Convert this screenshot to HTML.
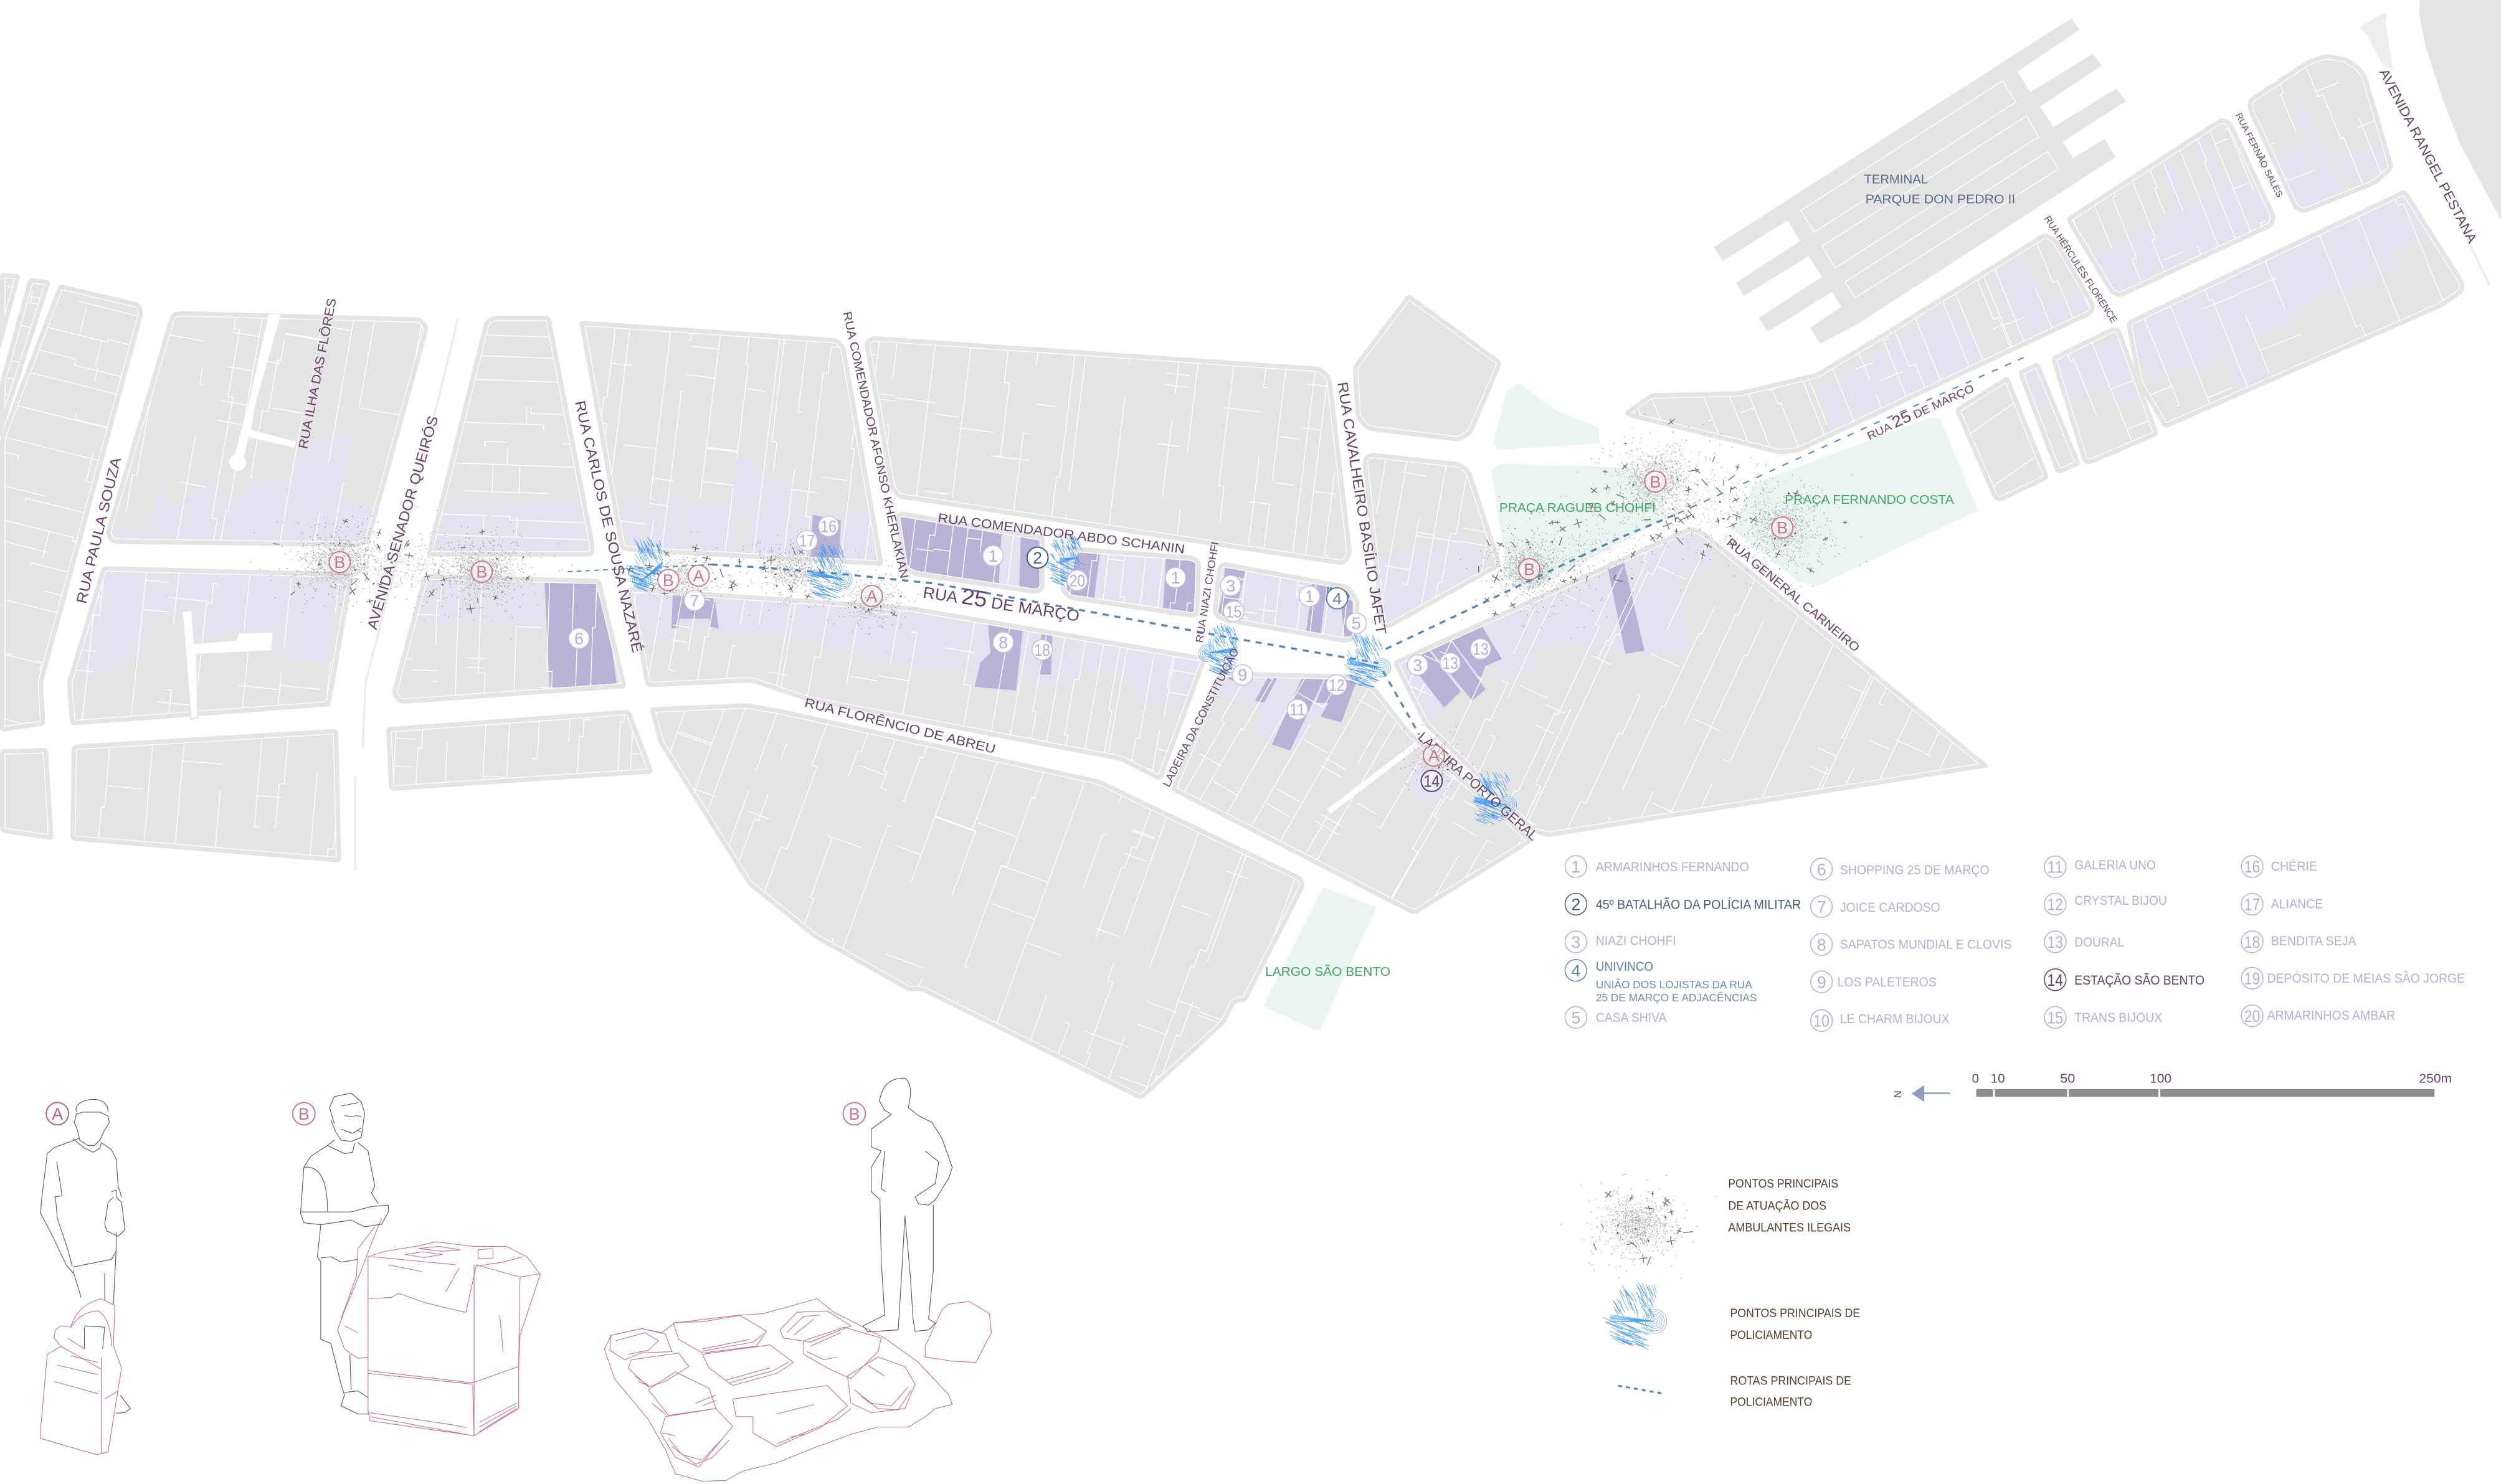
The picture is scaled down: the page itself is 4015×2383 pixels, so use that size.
<!DOCTYPE html>
<html lang="pt"><head><meta charset="utf-8"><title>Rua 25 de Março</title>
<style>
html,body{margin:0;padding:0;background:#fff}
svg{display:block;font-family:"Liberation Sans",sans-serif}
.r{fill:#6a3f6e}
.g{fill:#3fa663}
.n circle{fill:#fff;fill-opacity:.95;stroke:#c5bfe0;stroke-width:.6}
.n text{fill:#b5aed6;font-size:10.5px;text-anchor:middle}
.l circle{fill:none;stroke:#b5aed6;stroke-width:.6}
.l text{fill:#b5aed6;font-size:8.2px}
.l text.d{font-size:10.5px;text-anchor:middle}
.p circle{fill:#fff;fill-opacity:.6;stroke:#c9758a;stroke-width:.75}
.p text{fill:#c9758a;font-size:10.5px;text-anchor:middle}
.k text{fill:#5a3a2a;font-size:7.4px}
.fig *{vector-effect:non-scaling-stroke;fill:none;stroke-width:1.1px;stroke-linejoin:round}
</style></head><body>
<svg id="root" xmlns="http://www.w3.org/2000/svg" width="4015" height="2383" viewBox="0 0 1568 930.6">
<defs id="defs"></defs>
<g id="parks">
<polygon fill="#eaf4f0" points="936,278 945,245 952,240 975,257 1002,268 1003,278 940,282"/>
<polygon fill="#eaf4f0" points="935,295 940,291 1020,293 1042,310 1045,325 960,370 945,360"/>
<polygon fill="#eaf4f0" points="1100,303 1210,262 1216,262 1240,320 1140,367 1128,365 1085,331"/>
<polygon fill="#eaf4f0" points="829.5,556.5 863,568.7 827.6,645.7 824,645.7 792,631"/>
</g>
<g id="blocks"></g>
<g id="whites" fill="#fff" stroke="none"></g>
<g id="scatter"></g>
<g id="dash" fill="none"></g>
<g id="hatch" fill="none"></g>

<!-- street labels -->
<g class="r">
<text transform="translate(53.8,379) rotate(-76.4)" font-size="9" textLength="94" lengthAdjust="spacingAndGlyphs">RUA PAULA SOUZA</text>
<text transform="translate(192.5,281.8) rotate(-79)" font-size="8" textLength="96" lengthAdjust="spacingAndGlyphs">RUA ILHA DAS FLÔRES</text>
<text transform="translate(236,395.3) rotate(-73.8)" font-size="9" textLength="139" lengthAdjust="spacingAndGlyphs">AVENIDA SENADOR QUEIRÓS</text>
<text transform="translate(360.4,252) rotate(77)" font-size="9" textLength="162" lengthAdjust="spacingAndGlyphs">RUA CARLOS DE SOUSA NAZARÉ</text>
<text transform="translate(528.5,196) rotate(77.8)" font-size="7.5" textLength="171" lengthAdjust="spacingAndGlyphs">RUA COMENDADOR AFONSO KHERLAKIAN</text>
<text transform="translate(587.7,327.3) rotate(7.3)" font-size="8" textLength="156" lengthAdjust="spacingAndGlyphs">RUA COMENDADOR ABDO SCHANIN</text>
<text transform="translate(578.3,374.7) rotate(8.7)" font-size="10" textLength="99" lengthAdjust="spacingAndGlyphs">RUA <tspan font-size="14">25</tspan> DE MARÇO</text>
<text transform="translate(754,403.3) rotate(-81)" font-size="6.5" textLength="64" lengthAdjust="spacingAndGlyphs">RUA NIAZI CHOHFI</text>
<text transform="translate(733,494) rotate(-63)" font-size="7" textLength="96.5" lengthAdjust="spacingAndGlyphs">LADEIRA DA CONSTITUIÇÃO</text>
<text transform="translate(838.6,240) rotate(81.2)" font-size="9" textLength="160" lengthAdjust="spacingAndGlyphs">RUA CAVALHEIRO BASÍLIO JAFET</text>
<text transform="translate(504,443) rotate(13.9)" font-size="8" textLength="123" lengthAdjust="spacingAndGlyphs">RUA FLORÊNCIO DE ABREU</text>
<text transform="translate(888.5,463) rotate(41.7)" font-size="8.5" textLength="97" lengthAdjust="spacingAndGlyphs">LADEIRA PORTO GERAL</text>
<text transform="translate(1082,341) rotate(40)" font-size="7.7" textLength="106" lengthAdjust="spacingAndGlyphs">RUA GENERAL CARNEIRO</text>
<text transform="translate(1172,276) rotate(-25)" font-size="7" textLength="73" lengthAdjust="spacingAndGlyphs">RUA <tspan font-size="10">25</tspan> DE MARÇO</text>
<text transform="translate(1281.5,137) rotate(57)" font-size="6" textLength="78.5" lengthAdjust="spacingAndGlyphs">RUA HÉRCULES FLORENCE</text>
<text transform="translate(1401.5,72) rotate(63)" font-size="5.5" textLength="58.5" lengthAdjust="spacingAndGlyphs">RUA FERNÃO SALES</text>
<text transform="translate(1491.5,45) rotate(62.4)" font-size="8.5" textLength="122" lengthAdjust="spacingAndGlyphs">AVENIDA RANGEL PESTANA</text>
</g>
<g fill="#5a6a88" font-size="8">
<text x="1168.7" y="115" textLength="40" lengthAdjust="spacingAndGlyphs">TERMINAL</text>
<text x="1169.5" y="127.5" textLength="94" lengthAdjust="spacingAndGlyphs">PARQUE DON PEDRO II</text>
</g>
<g class="g" font-size="8">
<text x="940" y="321" textLength="98" lengthAdjust="spacingAndGlyphs">PRAÇA RAGUEB CHOHFI</text>
<text x="1119" y="316" textLength="106" lengthAdjust="spacingAndGlyphs">PRAÇA FERNANDO COSTA</text>
<text x="793.2" y="612" textLength="78.5" lengthAdjust="spacingAndGlyphs">LARGO SÃO BENTO</text>
</g>

<!-- map numbers -->
<g class="n">
<g><circle cx="363" cy="400.3" r="6.4"/><text x="363" y="404">6</text></g>
<g><circle cx="435.4" cy="376.6" r="6.4"/><text x="435.4" y="380.3">7</text></g>
<g><circle cx="519.5" cy="330" r="6.4"/><text x="519.5" y="333.7" textLength="10" lengthAdjust="spacingAndGlyphs">16</text></g>
<g><circle cx="506" cy="339" r="6.4"/><text x="506" y="342.7" textLength="10" lengthAdjust="spacingAndGlyphs">17</text></g>
<g><circle cx="622.6" cy="348.5" r="6.4"/><text x="622.6" y="352.2">1</text></g>
<g><circle cx="675.4" cy="364" r="6.4"/><text x="675.4" y="367.7" textLength="10" lengthAdjust="spacingAndGlyphs">20</text></g>
<g><circle cx="737" cy="362.2" r="6.4"/><text x="737" y="365.9">1</text></g>
<g><circle cx="771.6" cy="367.2" r="6.4"/><text x="771.6" y="370.9">3</text></g>
<g><circle cx="773.5" cy="383.4" r="6.4"/><text x="773.5" y="387.1" textLength="10" lengthAdjust="spacingAndGlyphs">15</text></g>
<g><circle cx="821" cy="373.9" r="6.4"/><text x="821" y="377.6">1</text></g>
<g><circle cx="850.3" cy="390.8" r="6.4"/><text x="850.3" y="394.5">5</text></g>
<g><circle cx="629" cy="402.8" r="6.4"/><text x="629" y="406.5">8</text></g>
<g><circle cx="653.4" cy="407.5" r="6.4"/><text x="653.4" y="411.2" textLength="10" lengthAdjust="spacingAndGlyphs">18</text></g>
<g><circle cx="779" cy="423.2" r="6.4"/><text x="779" y="426.9">9</text></g>
<g><circle cx="813.4" cy="444.9" r="6.4"/><text x="813.4" y="448.6" textLength="10" lengthAdjust="spacingAndGlyphs">11</text></g>
<g><circle cx="838" cy="429.5" r="6.4"/><text x="838" y="433.2" textLength="10" lengthAdjust="spacingAndGlyphs">12</text></g>
<g><circle cx="888.8" cy="417" r="6.4"/><text x="888.8" y="420.7">3</text></g>
<g><circle cx="909.2" cy="415.8" r="6.4"/><text x="909.2" y="419.5" textLength="10" lengthAdjust="spacingAndGlyphs">13</text></g>
<g><circle cx="928.3" cy="407" r="6.4"/><text x="928.3" y="410.7" textLength="10" lengthAdjust="spacingAndGlyphs">13</text></g>
</g>
<circle cx="650.5" cy="349.7" r="6.6" fill="#fff" stroke="#4a5a80" stroke-width=".8"/><text x="650.5" y="353.4" font-size="10.5" text-anchor="middle" fill="#4a5a80">2</text>
<circle cx="838.3" cy="375.2" r="6.6" fill="#fff" stroke="#5d85aa" stroke-width=".8"/><text x="838.3" y="378.9" font-size="10.5" text-anchor="middle" fill="#5d85aa">4</text>
<circle cx="897.6" cy="489.7" r="6.6" fill="#fff" fill-opacity=".5" stroke="#5e3c6e" stroke-width=".8"/><text x="897.6" y="493.4" font-size="10.5" text-anchor="middle" fill="#5e3c6e" textLength="10" lengthAdjust="spacingAndGlyphs">14</text>

<!-- A/B pins -->
<g class="p">
<g><circle cx="213" cy="352.5" r="6.6"/><text x="213" y="356.2">B</text></g>
<g><circle cx="302" cy="358.5" r="6.6"/><text x="302" y="362.2">B</text></g>
<g><circle cx="419" cy="363.7" r="6.6"/><text x="419" y="367.4">B</text></g>
<g><circle cx="438" cy="361" r="6.6"/><text x="438" y="364.7">A</text></g>
<g><circle cx="546.6" cy="373.7" r="6.6"/><text x="546.6" y="377.4">A</text></g>
<g><circle cx="958.8" cy="357" r="6.6"/><text x="958.8" y="360.7">B</text></g>
<g><circle cx="1037.8" cy="302" r="6.6"/><text x="1037.8" y="305.7">B</text></g>
<g><circle cx="1117.4" cy="330.8" r="6.6"/><text x="1117.4" y="334.5">B</text></g>
<g><circle cx="899" cy="473.8" r="6.6"/><text x="899" y="477.5">A</text></g>
</g>

<!-- legend -->
<g class="l">
<circle cx="988" cy="543.4" r="6.8"/><text class="d" x="988" y="547.2">1</text><text x="1000.5" y="546.4" textLength="96" lengthAdjust="spacingAndGlyphs">ARMARINHOS FERNANDO</text>
<circle cx="988" cy="567" r="6.8" style="stroke:#4a5a80"/><text class="d" x="988" y="570.8" style="fill:#4a5a80">2</text><text x="1000.5" y="570" textLength="128.6" lengthAdjust="spacingAndGlyphs" style="fill:#4a5a78">45º BATALHÃO DA POLÍCIA MILITAR</text>
<circle cx="988" cy="590.6" r="6.8"/><text class="d" x="988" y="594.4">3</text><text x="1000.5" y="592.6" textLength="50.3" lengthAdjust="spacingAndGlyphs">NIAZI CHOHFI</text>
<circle cx="988" cy="608.5" r="6.8" style="stroke:#5d85aa"/><text class="d" x="988" y="612.3" style="fill:#5d85aa">4</text><text x="1000.5" y="608.8" textLength="36" lengthAdjust="spacingAndGlyphs" style="fill:#5d85aa">UNIVINCO</text>
<text x="1000.5" y="619.8" textLength="98" lengthAdjust="spacingAndGlyphs" style="fill:#6d8db0;font-size:7px">UNIÃO DOS LOJISTAS DA RUA</text>
<text x="1000.5" y="628" textLength="101" lengthAdjust="spacingAndGlyphs" style="fill:#6d8db0;font-size:7px">25 DE MARÇO E ADJACÊNCIAS</text>
<circle cx="988" cy="638" r="6.8"/><text class="d" x="988" y="641.8">5</text><text x="1000.5" y="640.8" textLength="44.4" lengthAdjust="spacingAndGlyphs">CASA SHIVA</text>

<circle cx="1142" cy="545" r="6.8"/><text class="d" x="1142" y="548.8">6</text><text x="1153.6" y="548.2" textLength="93.6" lengthAdjust="spacingAndGlyphs">SHOPPING 25 DE MARÇO</text>
<circle cx="1142" cy="568.5" r="6.8"/><text class="d" x="1142" y="572.3">7</text><text x="1153.6" y="571.8" textLength="62.8" lengthAdjust="spacingAndGlyphs">JOICE CARDOSO</text>
<circle cx="1142" cy="592.3" r="6.8"/><text class="d" x="1142" y="596.1">8</text><text x="1153.6" y="595" textLength="107.6" lengthAdjust="spacingAndGlyphs">SAPATOS MUNDIAL E CLOVIS</text>
<circle cx="1142" cy="615.7" r="6.8"/><text class="d" x="1142" y="619.5">9</text><text x="1152" y="618.5" textLength="62" lengthAdjust="spacingAndGlyphs">LOS PALETEROS</text>
<circle cx="1142" cy="640" r="6.8"/><text class="d" x="1142" y="643.8" textLength="10" lengthAdjust="spacingAndGlyphs">10</text><text x="1153.6" y="641.6" textLength="68.6" lengthAdjust="spacingAndGlyphs">LE CHARM BIJOUX</text>

<circle cx="1288.5" cy="543.6" r="6.8"/><text class="d" x="1288.5" y="547.4" textLength="10" lengthAdjust="spacingAndGlyphs">11</text><text x="1300.6" y="545.2" textLength="51" lengthAdjust="spacingAndGlyphs">GALERIA UNO</text>
<circle cx="1288.5" cy="567" r="6.8"/><text class="d" x="1288.5" y="570.8" textLength="10" lengthAdjust="spacingAndGlyphs">12</text><text x="1300.6" y="567.5" textLength="58" lengthAdjust="spacingAndGlyphs">CRYSTAL BIJOU</text>
<circle cx="1288.5" cy="590.6" r="6.8"/><text class="d" x="1288.5" y="594.4" textLength="10" lengthAdjust="spacingAndGlyphs">13</text><text x="1300.6" y="593.6" textLength="31.2" lengthAdjust="spacingAndGlyphs">DOURAL</text>
<circle cx="1288.5" cy="614.4" r="6.8" style="stroke:#5e3c6e"/><text class="d" x="1288.5" y="618.2" textLength="10" lengthAdjust="spacingAndGlyphs" style="fill:#5e3c6e">14</text><text x="1300.6" y="617.5" textLength="81.5" lengthAdjust="spacingAndGlyphs" style="fill:#5e3c6e">ESTAÇÃO SÃO BENTO</text>
<circle cx="1288.5" cy="638" r="6.8"/><text class="d" x="1288.5" y="641.8" textLength="10" lengthAdjust="spacingAndGlyphs">15</text><text x="1300.6" y="640.8" textLength="55" lengthAdjust="spacingAndGlyphs">TRANS BIJOUX</text>

<circle cx="1412" cy="543.4" r="6.8"/><text class="d" x="1412" y="547.2" textLength="10" lengthAdjust="spacingAndGlyphs">16</text><text x="1423.8" y="546" textLength="29" lengthAdjust="spacingAndGlyphs">CHÉRIE</text>
<circle cx="1412" cy="567" r="6.8"/><text class="d" x="1412" y="570.8" textLength="10" lengthAdjust="spacingAndGlyphs">17</text><text x="1423.8" y="569.5" textLength="32.7" lengthAdjust="spacingAndGlyphs">ALIANCE</text>
<circle cx="1412" cy="590.6" r="6.8"/><text class="d" x="1412" y="594.4" textLength="10" lengthAdjust="spacingAndGlyphs">18</text><text x="1423.8" y="592.9" textLength="53.4" lengthAdjust="spacingAndGlyphs">BENDITA SEJA</text>
<circle cx="1412" cy="613.4" r="6.8"/><text class="d" x="1412" y="617.2" textLength="10" lengthAdjust="spacingAndGlyphs">19</text><text x="1421.4" y="616.2" textLength="124" lengthAdjust="spacingAndGlyphs">DEPÓSITO DE MEIAS SÃO JORGE</text>
<circle cx="1412" cy="637" r="6.8"/><text class="d" x="1412" y="640.8" textLength="10" lengthAdjust="spacingAndGlyphs">20</text><text x="1421.4" y="639.5" textLength="80.3" lengthAdjust="spacingAndGlyphs">ARMARINHOS AMBAR</text>
</g>

<!-- scale -->
<g fill="#6a3f6e" font-size="8">
<text x="1236.3" y="679">0</text><text x="1248" y="679" textLength="9" lengthAdjust="spacingAndGlyphs">10</text><text x="1291.6" y="679" textLength="9.4" lengthAdjust="spacingAndGlyphs">50</text><text x="1347.8" y="679" textLength="13.6" lengthAdjust="spacingAndGlyphs">100</text><text x="1516.6" y="679" textLength="20.6" lengthAdjust="spacingAndGlyphs">250m</text>
<text transform="translate(1192,686.2) rotate(-90)" font-size="6.5" text-anchor="middle">N</text>
</g>
<g fill="#8e8e8e">
<rect x="1239" y="683" width="10.5" height="4.8"/><rect x="1250.7" y="683" width="45.3" height="4.8"/><rect x="1297" y="683" width="56.2" height="4.8"/><rect x="1354.4" y="683" width="171.9" height="4.8"/>
</g>
<polygon points="1198.5,685.8 1206.4,680.5 1206.4,691" fill="#8aa0bc"/><line x1="1206" y1="685.6" x2="1222.6" y2="685.6" stroke="#8aa0bc" stroke-width="1"/>

<!-- key -->
<g class="k">
<text x="1083.5" y="744.7" textLength="69" lengthAdjust="spacingAndGlyphs">PONTOS PRINCIPAIS</text>
<text x="1083.5" y="758.6" textLength="61.6" lengthAdjust="spacingAndGlyphs">DE ATUAÇÃO DOS</text>
<text x="1083.5" y="772.2" textLength="76.8" lengthAdjust="spacingAndGlyphs">AMBULANTES ILEGAIS</text>
<text x="1084.7" y="826" textLength="81.5" lengthAdjust="spacingAndGlyphs">PONTOS PRINCIPAIS DE</text>
<text x="1084.7" y="839.6" textLength="51.5" lengthAdjust="spacingAndGlyphs">POLICIAMENTO</text>
<text x="1084.7" y="868.3" textLength="76" lengthAdjust="spacingAndGlyphs">ROTAS PRINCIPAIS DE</text>
<text x="1084.7" y="881.7" textLength="51.5" lengthAdjust="spacingAndGlyphs">POLICIAMENTO</text>
</g>

<!-- figures -->
<g class="fig" transform="matrix(.4234 0 0 .1701 0 663.9)">
<g stroke="#5b5058">
<path d="M113,195C110,165 125,150 140,150C155,152 160,175 160,195"/>
<path d="M113,205L122,197L148,197L160,212L162,235L155,262L148,300L140,320L130,320L118,300L115,265L110,235Z"/>
<path d="M118,293L80,328L70,350L62,510L60,570L75,640L98,760L108,790"/>
<path d="M80,510L92,505L84,380M82,510L85,590L100,700L107,765"/>
<path d="M108,768L165,740L172,710L172,640M150,310L165,335L172,370L175,470L180,510"/>
<path d="M108,295L125,330L138,345L148,330L150,310"/>
<path d="M108,780L120,880M172,700L168,905M155,790L155,890"/>
<path d="M165,490L172,485L172,510L180,530L185,630L175,655L158,635L155,610L160,530L168,510"/>
<path d="M125,985L155,990L152,1070M125,990L125,1070M178,1240L193,1290L185,1305L172,1307"/>

<path d="M495,240L488,180L495,140L520,127L535,160L540,200L535,290L520,305L505,300L497,270L490,225"/>
<path d="M505,175L530,162M510,210L525,215M525,210L535,212M505,260L522,275L535,255M530,265L535,270"/>
<path d="M495,300L485,320L460,360L450,400L445,570L450,605L475,612L470,730L475,750L475,1035L490,1050L505,1200L510,1240L505,1280L530,1310L548,1310"/>
<path d="M530,310L545,340L555,470L550,495L560,535M450,400C470,395 485,430 485,565"/>
<path d="M445,565L520,565L550,545L575,540L575,565L565,610L540,620L520,595L475,612"/>
<path d="M485,320L510,350L522,345L525,312M475,735L490,730L505,750L530,740M510,1230L530,1225L545,1250M518,1090L520,1220"/>

<path d="M1305,130C1310,85 1325,70 1340,72C1350,90 1350,130 1345,180L1360,210L1380,235L1395,295L1410,400L1405,440L1385,520L1375,540L1360,535L1355,510L1385,460M1382,540L1382,780L1375,960L1385,975L1375,1000L1355,1005L1352,960L1348,800L1340,580L1335,800L1330,1000L1285,1007L1278,985L1310,945L1305,750L1303,520L1290,490L1290,400L1305,340L1290,325L1290,260L1320,205L1310,190L1302,155L1305,130"/>
<path d="M1310,340L1305,480L1312,490M1370,340L1390,380L1385,460"/>
</g>
<g stroke="#cc6d88">
<path d="M150,885C125,900 110,940 105,990L90,985L82,1000L80,1030L90,1060L70,1090L60,1370L60,1400L143,1460L160,1450L180,1140L168,1060L170,910L150,885Z"/>
<path d="M105,990C115,950 130,930 145,930C158,945 165,1000 165,1060M90,1060L150,1145M85,1130L145,1165M80,1190L145,1235M155,1255L175,1225M150,1100L150,1455M100,1030L125,1070M105,1095L145,1120"/>

<path d="M545,730L570,710L620,690L645,675L700,692L750,692L780,730L800,795L790,870L770,1020L768,1135L768,1290L702,1390L548,1335L545,1300L545,730Z"/>
<path d="M550,730L675,760M705,760L770,805L800,793M545,885L580,880L590,865L630,900L680,930L690,935L705,765L745,750L775,730M702,760L702,1390M770,805L768,1135M545,1150L700,1195L768,1135M545,1160L700,1200M700,1205L702,1390M548,1305L670,1350L690,1360M548,1320L690,1385M710,1375L765,1290M710,1340L765,1270M710,1358L765,1280M575,760L625,785M660,860L680,770M740,945L745,1080"/>
<path d="M565,590L550,680L535,780L510,930L500,1000L510,1070L530,1105L545,1100M555,620L530,700L528,800L505,960M510,985L530,1010"/>
<path d="M620,700L655,710L682,705L650,692ZM600,722L628,733L655,722L625,712ZM708,705L730,700L730,735L708,737Z"/>

<path d="M1405,905L1435,895L1465,940L1468,1010L1445,1120L1410,1115L1370,1100L1370,1060L1385,980L1395,925Z"/>
<path d="M895,1070L910,1180L960,1330L985,1440L1000,1530L1040,1558L1075,1555L1100,1520L1150,1490L1200,1440L1260,1385L1300,1358L1345,1358L1370,1320L1385,1290L1410,1275L1405,1240L1360,1120L1310,1030L1255,960L1235,935L1210,885L1130,940L1100,945L1040,970L1000,972L980,1010L950,995L905,1020Z"/>
<path d="M905,1020L950,995L985,1015L995,1080L950,1085L925,1110L903,1075ZM912,1040L955,1010L975,1040L960,1075L930,1090"/>
<path d="M997,975L1095,945L1135,1005L1120,1060L1040,1085L1005,1035ZM1040,1078L1115,1045L1130,1015M1040,1070L1110,1035"/>
<path d="M1040,1090L1140,1055L1175,1120L1150,1160L1085,1205L1050,1140ZM1080,1195L1145,1150L1168,1118M1075,1185L1140,1140"/>
<path d="M1155,1000L1180,935L1225,930L1260,985L1200,1045L1160,1030ZM1165,1010L1190,950L1215,945M1175,1020L1205,960"/>
<path d="M1190,1040L1250,990L1305,1030L1300,1080L1260,1180L1225,1140L1190,1090ZM1200,1060L1245,1010M1195,1080L1220,1110L1240,1100"/>
<path d="M1255,1170L1300,1100L1340,1135L1355,1200L1340,1290L1290,1305L1260,1270ZM1265,1220L1290,1270L1320,1280L1345,1210M1275,1245L1300,1290L1330,1295L1350,1220M1285,1130L1310,1170"/>
<path d="M935,1110L1005,1085L1020,1135L985,1190L960,1210L930,1140ZM940,1170L960,1205L945,1190"/>
<path d="M960,1220L1000,1155L1050,1215L1060,1290L990,1315ZM1030,1270L1060,1240M1040,1280L1060,1260M965,1270L985,1310"/>
<path d="M985,1320L1060,1290L1085,1355L1060,1430L1035,1505L1000,1470L978,1380ZM990,1400L1010,1460L1040,1480L1070,1400M995,1430L1030,1495L1055,1470L1080,1405M980,1380L1000,1390"/>
<path d="M1085,1255L1225,1205L1255,1280L1215,1360L1150,1430L1115,1380L1115,1320L1090,1320ZM1150,1310L1205,1275M1150,1420L1240,1330L1260,1290M1170,1395L1190,1385"/>
</g>
</g>
<g class="p">
<g><circle cx="36" cy="698.4" r="7" style="fill:none;stroke:#c25c7a"/><text x="36" y="702.2" style="fill:#c25c7a">A</text></g>
<g><circle cx="190.5" cy="698.4" r="7" style="fill:none"/><text x="190.5" y="702.2">B</text></g>
<g><circle cx="535.6" cy="698.4" r="7" style="fill:none"/><text x="535.6" y="702.2">B</text></g>
</g>
</svg>
<script>
(function(){
var NS="http://www.w3.org/2000/svg",GRAY="#e4e4e4",LIL="#e3e2f1",DK="#b9b1d6",seed=12345;
function R(){seed|=0;seed=seed+0x6D2B79F5|0;var t=Math.imul(seed^seed>>>15,1|seed);t=t+Math.imul(t^t>>>7,61|t)^t;return((t^t>>>14)>>>0)/4294967296}
function G(){return (R()+R()+R()+R()-2)/.58}
function el(n,a,p){var e=document.createElementNS(NS,n);for(var k in a)e.setAttribute(k,a[k]);if(p)p.appendChild(e);return e}
function f(x){return x.toFixed(1)}
function rp(P,r){
 var d="",n=P.length;
 for(var i=0;i<n;i++){
  var p0=P[(i+n-1)%n],p1=P[i],p2=P[(i+1)%n],a=Math.hypot(p0[0]-p1[0],p0[1]-p1[1]),b=Math.hypot(p2[0]-p1[0],p2[1]-p1[1]),d1=Math.min(r,a/2),d2=Math.min(r,b/2);
  var ax=p1[0]+(p0[0]-p1[0])*d1/a,ay=p1[1]+(p0[1]-p1[1])*d1/a,bx=p1[0]+(p2[0]-p1[0])*d2/b,by=p1[1]+(p2[1]-p1[1])*d2/b;
  d+=(i?"L":"M")+f(ax)+" "+f(ay)+"Q"+f(p1[0])+" "+f(p1[1])+" "+f(bx)+" "+f(by);
 }
 return d+"Z";
}
var B=[
["0,171 13,172 0,220",10,8,14],
["18,174 32,176 0,275 0,240",10,8,14],
["37,178 88,190 90,196 27,428 28.5,455 0,459 0,275",14,9,18],
["0,470 30,469 33.6,527 0,522",0,0,0],
["107,197 112,195 264,199 269,205 232,339 227,343 70,341 66,335",100,12,28,["70.6,329 91.5,334.5 96,322.6 99.7,306 104,307 102.7,316.6 117,318 119,308.4 124.4,308.4 125.9,302.4 135.6,303 136.3,307.6 140,308.8 140.8,312 145.3,312.9 151,312 158,301.6 184,302.4 185,286.7 197.6,275.5 208,277.7 209.6,272.5 220.8,274.7 212.6,312.9 233.5,318 229.8,342 66,342"]],
["64,355 222,359 207,443 44,455 42,428",96,12,28,["64,355 224,359 208,387 206.6,413.8 189,414.5 170,410 171.5,396.6 148,396.6 121,402.7 116,382.8 96,386.6 89,410 60.5,423.8 45.4,425 55.5,380"]],
["45,467 212,457 214,541 44,527",95,13,26],
["304,201 309,198 345,198 373,343 371.5,349 267,349",2,9,18,["281,317 366.5,314 375,350 270,350"]],
["265.6,360 376.5,363 393,431.5 250.5,441.5 245.5,435",92,12,20,["262,360 341,362 341,395 292.5,390 264,392"],["341.3,362 378,362 386.6,429 344.6,432.5"]],
["242,456 395,445 410,485 244,496",93,12,26],
["363,201 525,212 530,217 554,355 395,346 389,345",97,10,22,["390.5,315 399.6,314.4 404,350 395,350","404.8,320.3 410,320.3 410,311.8 427,310 430.2,350 406,350","429.6,316.4 458.2,315.7 460.8,322.3 460.2,350 433,350","459.5,313.8 462.8,287 473.2,286.4 471.2,322.9 460.8,322.9","471.2,292.3 475.1,295.6 502.5,308 501.8,322.2 509.6,323.5 546,320.3 552,358 470.6,350"],["509.6,322.9 527.2,326.2 525.9,354.1 508.3,350.2"]],
["393,368 570,380 757,412 728,490 702,477 507,440 471,428 405,431",100,9,20,["393,366 560,378 611,388 640,389 671,393 680,396 754,408 745,444 716,441 703,420 680,420 671,430 650,431 640,417 611,422 598,419.5 569,418 556,414.5 507.7,402.7 487.5,397.7 450,399 450,393 423.6,393 423.6,400 404,403"],["422,366 447,366 450.5,394 445,393 445,388 426,388 425,394 421,394","619,386 642,388 637,433 611,430.7 614.6,415.7 621,409.5","653,392 660,392 659,423 652,423"]],
["407,443.5 469,441 491,445 689.4,488.9 816.4,549.9 818.3,555 781,629 775,628 768,642 715.5,690 577.3,621.3 570,622 510,588 469,555 413,466",110,13,30],
["765,421 847.7,423 862,430.7 885,459.4 961,526.6 959,529 886.6,574 734,495.5",120,10,22,["763.5,434.4 773,412 851,425.7 841,453 828,449.4 809,470.6 786,460.6 792.6,447","878.7,485.6 891.7,477.8 915.8,490.8 894.3,507.7"],["775,412 792.7,414.5 779.7,429.5 770,425.7","800.7,414.5 805.6,415.7 792.6,440.7 786.8,439.4","820,417 833,419.5 808.8,470.6 797.5,466.8","833,420.7 851,425.7 841,453 828,449.4 833,440.7 825,440.7"]],
["873,415 1060,330 1068,333 1248,481 970,525 961,522 893,455",115,11,24,["869,420 1051,336 1060,332 1075,348 1076,356 1054,360 1058,410 1020,410 985,404 961,408 964,420 941,426 935,415 905,444 895,453.7 873.5,423"],["880,410.7 893.7,405.1 915.8,433.5 905.4,443.7","894.3,404.2 907.4,399 931.4,432.2 923,439.4","908,398.3 927.5,389.9 941.6,413.3 931.2,417.6 928.2,425.7","1008,356 1018,352 1031,408 1019,410"]],
["541.7,214 546.6,210.7 828,230 834.7,236.4 847.7,347.3 843,354.7 562.7,312.4 558,306",97,10,26],
["561,323.6 564,320.6 655,336 655,369.7 650,372.7 572.4,361 566,357",97,8,12,["628,335 640,337 640,372 625,370"],["560,320 628,332 626,370 570,362","640,335 657,338 655,372 639,370"]],
["664.7,342.3 749,348.5 753,352.2 752,385 749,387.6 669.6,375.9 664.7,369.7",97,9,15,["665,342 755,348 755,390 665,378"],["678,341 690,343 686,375 668,373 670,362","731,350 750,352 748,388 729,385"]],
["763.5,354.7 766.7,352.2 846,367 852.5,377 851,400.8 844.5,403.3 765,389.6 760,384.6",97,8,13,["767,352 854,370 854,405 765,391"],["768,354 781,357 773,391 763,387 767,370","823,363 832,365 828,398 819,396","840,374 848,377 848,399 843,399"],["#5d85aa","832,366 847,368 846,375 832,374"]],
["854,287.5 859,283.7 915.7,290 922,295 941.6,354.7 870,394.6 865.5,392",100,10,20,["863,351 899.5,342 915.7,333.6 940,364.7 870.4,396 866,392"]],
["848,230 883,184 942,227 923,272 915,277 857,270 850,262",0,0,0],
["1017.8,259 1034.8,246.6 1089.5,245.4 1138.5,234 1187.6,204.3 1282,145.7 1289.5,149.5 1314,192 1312,197 1127,284 1115.9,285 1021.6,261.6",68,8,16,["1140.4,246.6 1221.5,189.3 1248,228 1148,269.5","1250,174.4 1268.7,160.7 1289.5,205.5 1266.8,216.7","1285.7,191.8 1304.6,183 1310,193 1289.5,203"]],
["1295,137 1393,73.5 1398.9,76 1427,135.8 1425,142 1329,186.8 1323,184.3",68,8,15,["1312.9,162.4 1365,132 1355.5,102 1361,101 1370.6,129.5 1391,118 1376,90 1385.6,88.4 1395,118 1408.3,109.6 1427,138 1329,188"]],
["1409.2,62.5 1446.3,37.8 1458,33.6 1471,35.8 1480.1,41.7 1484,48.2 1500.9,105.5 1489.2,115.9 1443.7,134.1 1438.5,131.5 1409.2,69",68,10,20,["1437.1,62.5 1441.7,60.5 1469,119 1456.7,125","1426.7,97 1442.4,91.1 1456.7,125 1445,130.8 1441,128.9","1467.1,100.2 1493.1,89.2 1499.4,101.6 1491.2,108.7 1474.3,116.5"]],
["1332.9,201.8 1508,118.5 1545,177 1545,183 1530.9,192.7 1357,269 1340,240",68,16,32,["1334,203 1508.8,121 1521.8,147.8 1499,158.2 1502.9,168.6 1467,185.6 1455.5,181.8 1438.5,201.8 1410,214 1421.5,235.4 1402.6,245.4 1393,219.2 1376,239 1372.4,229 1348,239 1335,204"]],
["1285.7,224 1325,204.8 1329,205.5 1353.6,272.8 1310,291.4 1306,290",68,13,22,["1289.5,225.4 1306.4,214 1314,218 1331,210.5 1342.3,250.3 1329,252.8 1321.5,240.4 1295,252.8"]],
["1265,232.9 1278,226.7 1304.6,291.4 1289.5,297.7",0,0,0,["1268.7,235.4 1278,230.4 1287.6,250.3 1276,255.3"]],
["1225.3,256.6 1259,235.4 1285,300 1253.6,315 1250,313",-35,26,40],
["1298.9,11.2 1303.8,18.7 1265,44.8 1273,57.8 1312,33.6 1317.8,41 1279,66.8 1287.6,79.7 1327,55.3 1332.9,63.5 1293.2,88.9 1299.6,99 1319.6,87.2 1326.5,98.4 1165,203 1141,215.5 1134.8,205.5 1154.4,192.3 1148.7,183 1108.4,208 1102.7,199.3 1142.3,173.6 1134,160.7 1093.3,185.6 1088.4,177.4 1128.4,151.2 1120.8,138.2 1080,163.7 1074.4,155",0,0,0,null,null,null,true],
["1517,0 1568,0 1568,138 1542.6,91 1531,61 1520.5,28.6 1516.6,7.8",0,0,0,null,null,null,true]
];
var defs=document.getElementById("defs"),bl=document.getElementById("blocks");
B.forEach(function(b,i){
 var P=b[0].split(" ").map(function(s){return s.split(",").map(Number)});
 var xs=P.map(function(p){return p[0]}),ys=P.map(function(p){return p[1]});
 var x0=Math.min.apply(0,xs),x1=Math.max.apply(0,xs),y0=Math.min.apply(0,ys),y1=Math.max.apply(0,ys);
 var pd=rp(P,b[7]?0.01:3.2);
 var c=el("clipPath",{id:"c"+i},defs);el("path",{d:pd},c);
 var g=el("g",{"clip-path":"url(#c"+i+")"},bl);
 el("path",{d:pd,fill:GRAY},g);
 (b[4]||[]).forEach(function(p){el("polygon",{points:p,fill:LIL},g)});
 (b[5]||[]).forEach(function(p){el("polygon",{points:p,fill:DK},g)});
 if(b[6]){var col=b[6][0];b[6].slice(1).forEach(function(p){el("polygon",{points:p,fill:col},g)})}
 if(b[3]>0){
  var a=b[1]*Math.PI/180,ux=Math.cos(a),uy=Math.sin(a),vx=-uy,vy=ux,cx=(x0+x1)/2,cy=(y0+y1)/2,Rr=Math.hypot(x1-x0,y1-y0)/2+4,d="";
  for(var o=-Rr;o<Rr;){
   var s=b[2]+R()*(b[3]-b[2]),t=-Rr,oo=o;
   d+="M"+f(cx+ux*t+vx*oo)+" "+f(cy+uy*t+vy*oo);
   while(t<Rr){
    t+=10+R()*Math.min(Rr*.6,40);
    d+=(R()<.18?"M":"L")+f(cx+ux*t+vx*oo)+" "+f(cy+uy*t+vy*oo);
    if(R()<.3){oo+=(R()<.5?-1:1)*(1.5+R()*3);d+="L"+f(cx+ux*t+vx*oo)+" "+f(cy+uy*t+vy*oo)}
   }
   var n=Math.floor(R()*Rr/28+R()*1.6);
   for(var j=0;j<n;j++){var tt=-Rr+R()*2*Rr;d+="M"+f(cx+ux*tt+vx*o)+" "+f(cy+uy*tt+vy*o)+"L"+f(cx+ux*tt+vx*(o+s))+" "+f(cy+uy*tt+vy*(o+s))}
   o+=s;
  }
  el("path",{d:d,fill:"none",stroke:"#fff","stroke-width":.55},g);
 }
 if(!b[7]){
  el("path",{d:pd,fill:"none",stroke:"#fff","stroke-width":6.7},g);
  el("path",{d:pd,fill:"none",stroke:GRAY,"stroke-width":5.7},g);
 }
});
["1129,132 1255.5,50.6 1263.8,64 1137.4,145.7","1142.3,154.4 1270.6,72.7 1278,85.9 1150.6,168","1156.7,176.9 1283.8,95 1290.6,105.9 1163,186.8"].forEach(function(p){el("polygon",{points:p,fill:"none",stroke:"#fff","stroke-width":.6},bl)});
var W=document.getElementById("whites");
function wl(d,w){el("path",{d:d,fill:"none",stroke:"#fff","stroke-width":w},W)}
el("polygon",{points:"168.5,197 176,197 160,253.8 157.3,269.5 185.7,277 184.2,280.7 155.8,274 153,286 147,286 155.8,253.8"},W);
el("circle",{cx:149,cy:290,r:5.2,fill:"#fff"},W);
el("polygon",{points:"114.7,383.9 119.9,383.1 121.4,404 148.3,401.8 149.8,397.3 171,396.6 170,407.8 122.9,410 123.6,449.6 120.2,450.4",stroke:GRAY,"stroke-width":1.8,"paint-order":"stroke"},W);
wl("M833,509L888,467",3.6);
[["M274,253.8L229,428.7L227.5,469",1.4],["M287,200L274,253.8",1.4],["M222.6,487L222.6,546",1.4],["M1547,150L1560.8,179",1.5]].forEach(function(a){el("path",{d:a[0],fill:"none",stroke:"#ececec","stroke-width":a[1]},W)});
el("polygon",{points:"1480,16.3 1495,7.8 1496.4,9.8 1495.7,14.3 1500.3,43 1494.4,41.7 1484,22 1480,18",fill:"#eee"},W);
var S=document.getElementById("scatter");
function cluster(cx,cy,sx,sy,n,cr,crx,cry){
 var d1="",d2="",d3="",d4="",d5="",d6="",i,x,y,a,l;
 for(i=0;i<n;i++){
  x=cx+G()*sx;y=cy+G()*sy;a=R()*6.28;l=.25+R()*.4;
  d1+="M"+f(x)+" "+f(y)+"l"+(l*Math.cos(a)).toFixed(2)+" "+(l*Math.sin(a)).toFixed(2);
 }
 for(i=0;i<n/3;i++){
  x=cx+G()*sx*1.4;y=cy+G()*sy*1.4;a=R()*6.28;l=.3+R()*.5;
  d2+="M"+f(x)+" "+f(y)+"l"+(l*Math.cos(a)).toFixed(2)+" "+(l*Math.sin(a)).toFixed(2);
 }
 for(i=0;i<n/5;i++){
  x=cx+G()*sx*2.3;y=cy+G()*sy*2.3;
  d5+="M"+f(x)+" "+f(y)+"l.8 .25l-.5 .65z";
 }
 for(i=0;i<Math.min(5,n/60);i++){
  x=cx+G()*sx*1.4;y=cy+G()*sy*1.4;a=R()*3.14;
  d6+="M"+f(x)+" "+f(y)+"l"+(1.3*Math.cos(a)).toFixed(2)+" "+(1.3*Math.sin(a)).toFixed(2);
 }
 for(i=0;i<cr;i++){
  var t=R()*6.28,rr=.45+R()*.6,x3=cx+Math.cos(t)*crx*rr,y3=cy+Math.sin(t)*cry*rr,a3=R()*3.14,l3=1.5+R()*1.6;
  d3+="M"+f(x3-l3*Math.cos(a3))+" "+f(y3-l3*Math.sin(a3))+"L"+f(x3+l3*Math.cos(a3))+" "+f(y3+l3*Math.sin(a3));
  if(R()<.7){var b3=a3+1.2+R()*.7,l4=R()<.5?l3*.6:l3;d3+="M"+f(x3-l4*Math.cos(b3))+" "+f(y3-l4*Math.sin(b3))+"L"+f(x3+l4*Math.cos(b3))+" "+f(y3+l4*Math.sin(b3))}
 }
 for(i=0;i<7;i++){x=cx+G()*sx*1.6;y=cy-sy*1.8-R()*sy*1.6;d4+="M"+f(x)+" "+f(y)+"l.7 .3l-.4 .5z"}
 el("path",{d:d1,stroke:"#b5b5b5","stroke-width":.45,fill:"none"},S);
 el("path",{d:d2,stroke:"#8c8c8c","stroke-width":.45,fill:"none"},S);
 el("path",{d:d5,fill:"#9a9a9a"},S);
 el("path",{d:d6,stroke:"#5a5a5a","stroke-width":.8,fill:"none"},S);
 el("path",{d:d3,stroke:"#6b6565","stroke-width":.5,fill:"none"},S);
 el("path",{d:d4,fill:"#d6879c"},S);
}
cluster(213,352,9,6.5,1000,12,48,28);
cluster(302,358,9,6,900,9,48,28);
cluster(258,355,14,7,200,4,25,22);
cluster(498,358,9,5,550,6,30,16);
cluster(430,362,7,5,350,12,45,18);
cluster(546.6,377,6.5,5,350,2,18,12);
cluster(958.8,357,8,7,900,14,42,34);
cluster(1037.8,302,9,8,1000,18,48,38);
cluster(1117.4,331,8.5,8,800,8,40,32);
cluster(1075,320,14,10,200,16,30,30);
cluster(1000,345,14,9,160,10,40,30);
cluster(900,476,5,5,300,0,1,1);
cluster(1026,768.3,8,6.5,800,16,38,26);
var D=document.getElementById("dash");
function dash(d,w,da,op){el("path",{d:d,stroke:"#5585ba","stroke-width":w,"stroke-dasharray":da,opacity:op||1},D)}
dash("M356,358.5L446,354",.7,"3 2.5");
dash("M446,354L479,356L528.5,360L585.8,365.9L674.5,382L776.5,400.8L864,415.8",1.3,"3.9 3.6");
dash("M868.8,407L1015.4,337.3L1052,322",1.3,"3.9 3.6");
dash("M1052,322L1170,268L1268.7,224.2",.8,"4 5");
dash("M867,420.7L889.8,460.6",1.3,"3.9 3.6");
dash("M1014.5,869L1043.3,874",1.2,"2.5 2.5");
var H=document.getElementById("hatch");
function hatch(cx,cy,rx,ry,s){
 var d="",i,v,x,y,a,l;
 for(i=0;i<48;i++){
  v=R();x=cx+(R()*2-1)*(10-1*v)*s+v*3*s;y=cy-1-v*15*s;a=1.1+G()*.12;l=(2+R()*2)*s;
  d+="M"+f(x-l*Math.cos(a))+" "+f(y-l*Math.sin(a))+"L"+f(x+l*Math.cos(a))+" "+f(y+l*Math.sin(a));
 }
 for(i=0;i<48;i++){
  v=R();x=cx+(R()*2-1)*(11-5*v)*s;y=cy+1+v*15*s;a=.38+G()*.08;l=(2.5+R()*2.5)*s;
  d+="M"+f(x-l*Math.cos(a))+" "+f(y-l*Math.sin(a))+"L"+f(x+l*Math.cos(a))+" "+f(y+l*Math.sin(a));
 }
 var has=rx!==null,ox=has?rx:cx+10*s,oy=has?ry:cy-2;
 var fx=ox>cx?cx-11*s:cx+11*s;
 if(!has)fx=cx-3*s;
 for(i=0;i<7;i++)d+="M"+f(ox)+" "+f(oy)+"L"+f(fx)+" "+f(cy+(i-3)*.6*s);
 el("path",{d:d,stroke:"#4a9bf0","stroke-width":.3},H);
 if(has)for(i=1;i<6;i++)el("circle",{cx:rx,cy:ry,r:i*1.2*s,stroke:"#4a9bf0","stroke-width":.25},H);
}
hatch(404.9,354,402.2,363.8,.95);
hatch(518,359.3,528.6,363.2,.95);
hatch(667,351.6,null,null,.9);
hatch(765.5,407.5,757,409.5,.9);
hatch(855.3,415,866.2,418.8,.95);
hatch(934.7,501.2,945.1,505,.95);
hatch(1023,826.8,1037.5,828.6,1.25);
})();
</script>
</body></html>
